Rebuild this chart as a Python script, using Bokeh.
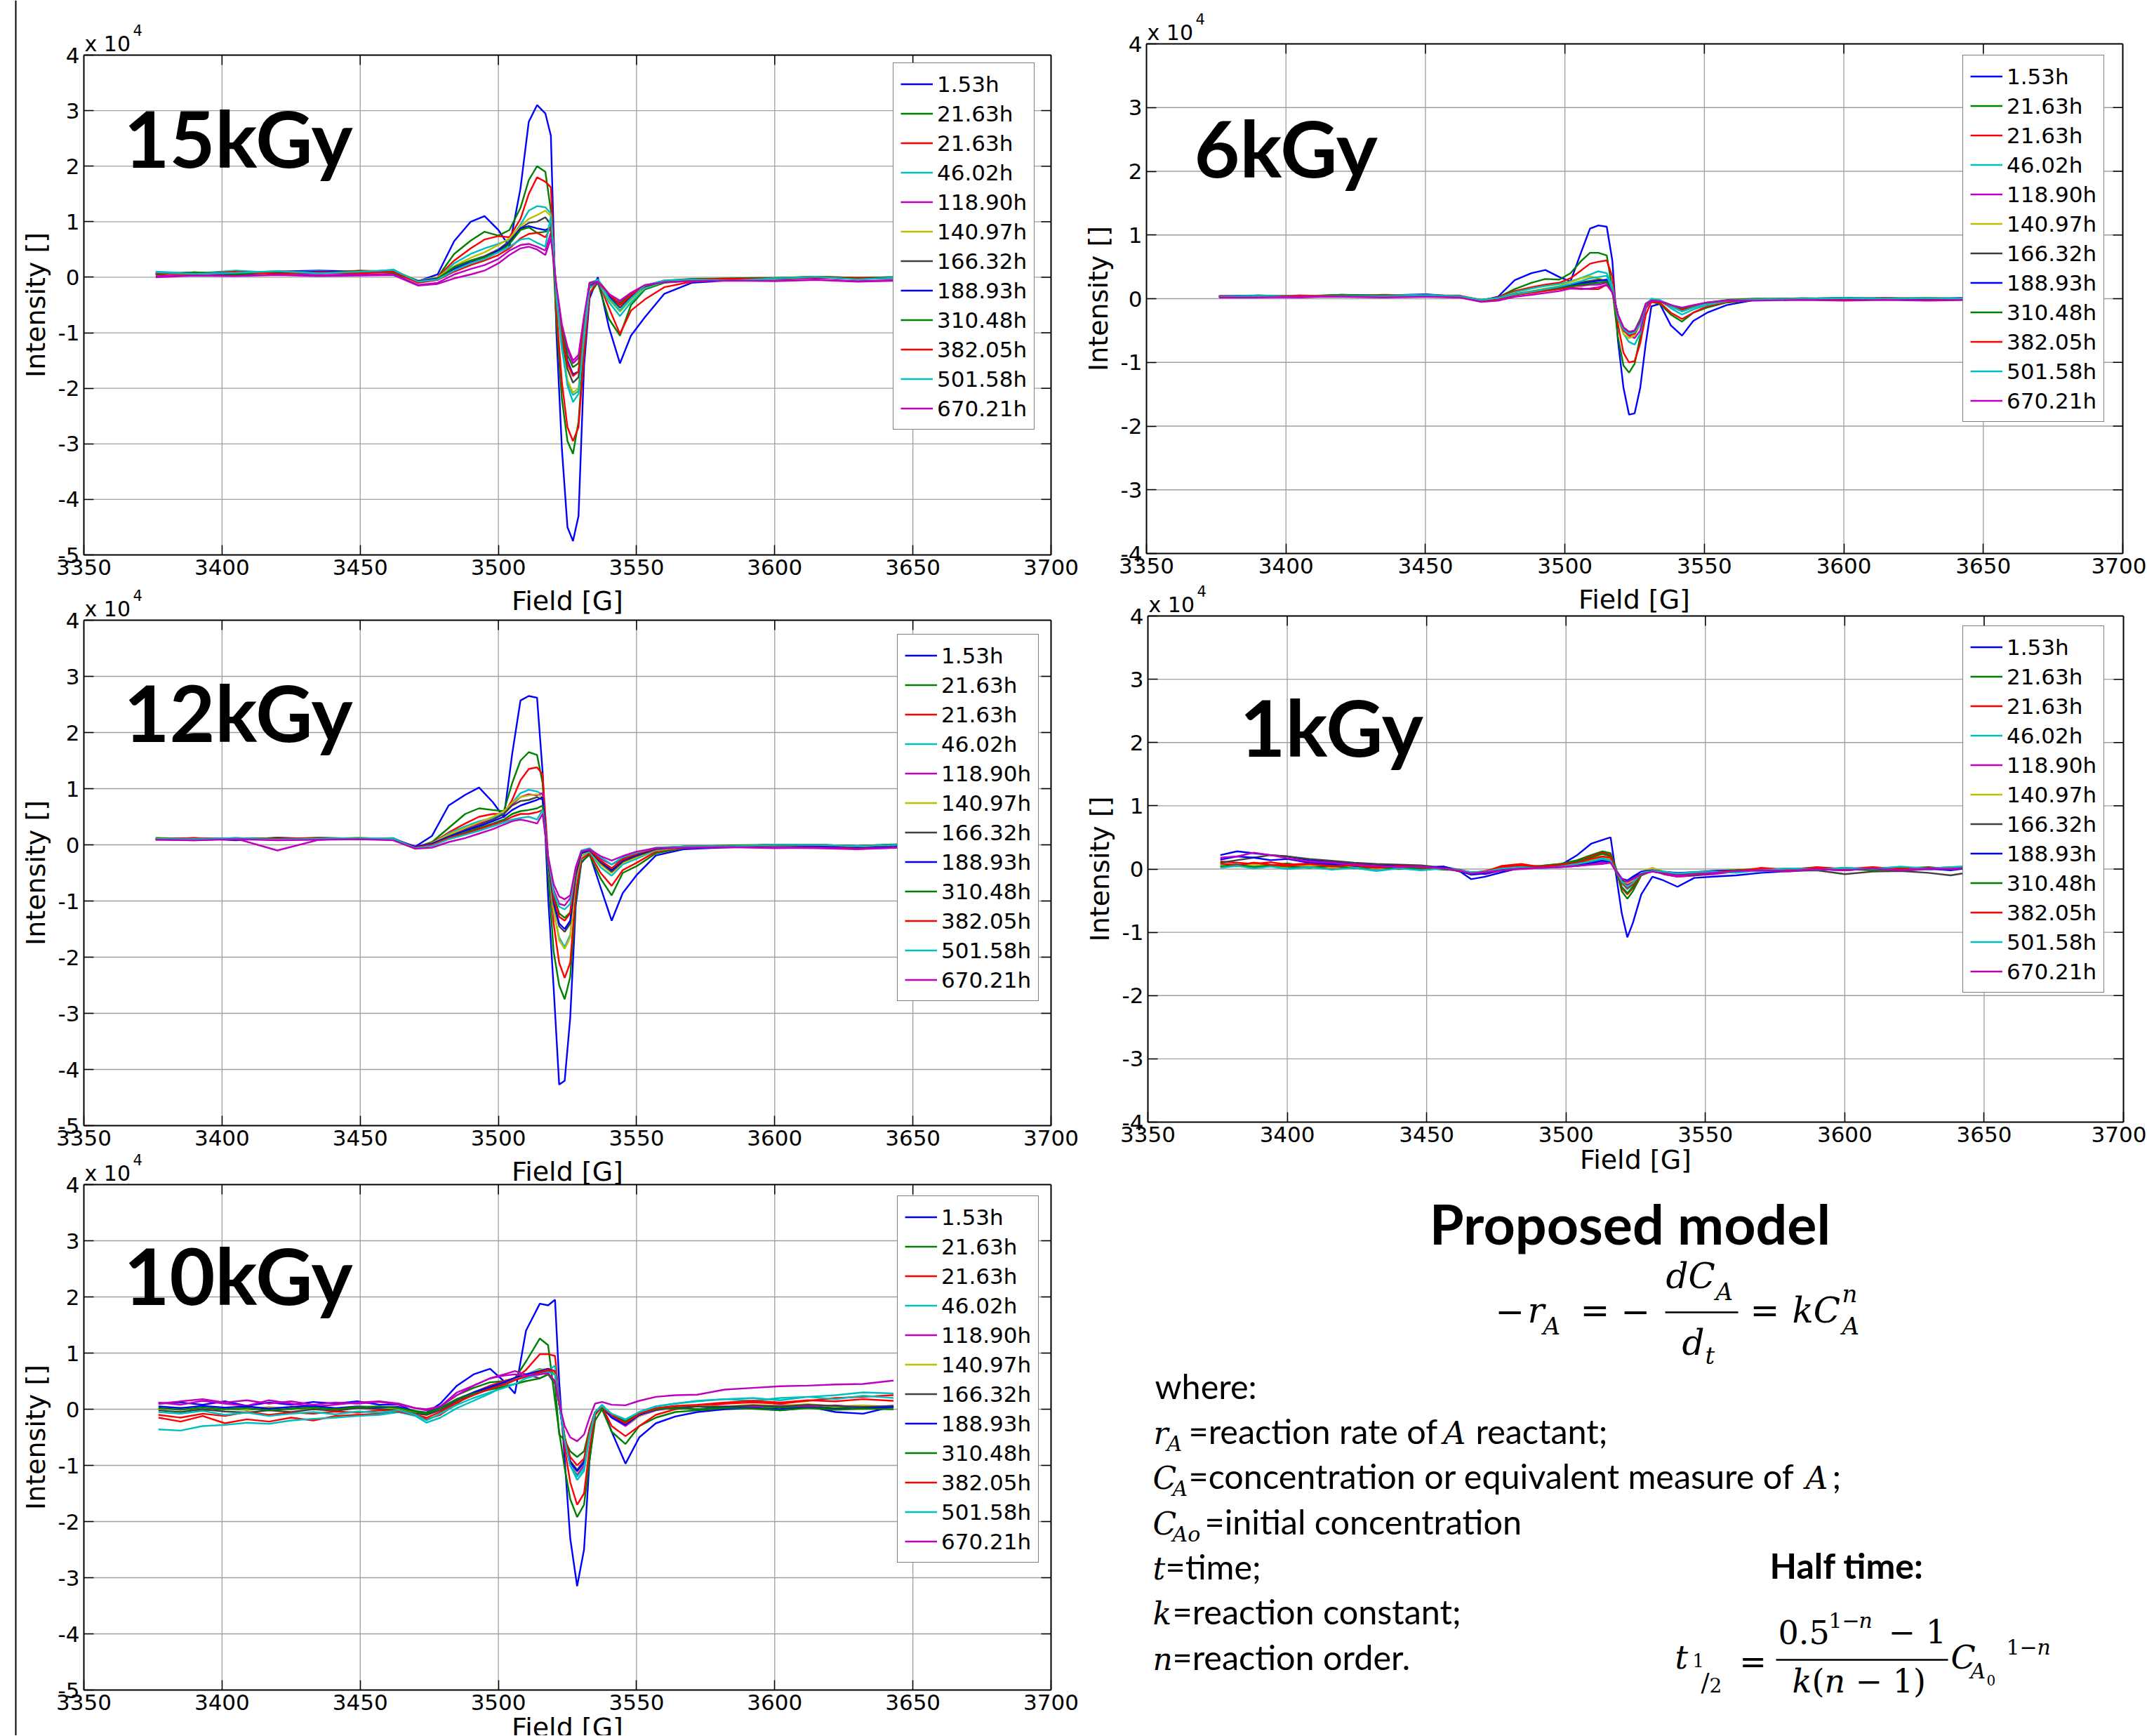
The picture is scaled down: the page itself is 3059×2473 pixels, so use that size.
from bokeh.plotting import figure
from bokeh.models import Range1d, FixedTicker, Legend, LegendItem, Label, Span
from bokeh.layouts import row, column
from bokeh.core.properties import value
from bokeh.embed import file_html
from bokeh.resources import INLINE

# ---------------- data ----------------
HOURS = ["1.53h", "21.63h", "21.63h", "46.02h", "118.90h", "140.97h",
         "166.32h", "188.93h", "310.48h", "382.05h", "501.58h", "670.21h"]
COLORS = ["#0000FF", "#008000", "#FF0000", "#00BFBF", "#BF00BF", "#BFBF00",
          "#404040", "#0000FF", "#008000", "#FF0000", "#00BFBF", "#BF00BF"]
X_TICKS = [3350, 3400, 3450, 3500, 3550, 3600, 3650, 3700]

# 15 kGy (intensity in units of 1e4)
F15 = [3376, 3390, 3405, 3420, 3435, 3450, 3462, 3471, 3478, 3484, 3490, 3495, 3500, 3504, 3508, 3511, 3514, 3517, 3519, 3521,
       3523, 3525, 3527, 3529, 3531, 3533, 3536, 3540, 3544, 3548, 3553, 3560, 3570, 3585, 3600, 3615, 3630, 3645]
D15_01 = [0.06, 0.08, 0.05, 0.10, 0.12, 0.10, 0.12, -0.07, 0.05, 0.65, 1.00, 1.10, 0.85, 0.55, 1.60, 2.80, 3.10, 2.95, 2.55, -1.00,
          -3.10, -4.50, -4.75, -4.30, -1.60, -0.38, 0.00, -0.90, -1.55, -1.05, -0.72, -0.30, -0.10, -0.05, -0.03, 0.00, -0.03, -0.01]
D15_02 = [0.08, 0.06, 0.09, 0.07, 0.10, 0.09, 0.11, -0.08, 0.00, 0.42, 0.66, 0.82, 0.75, 0.85, 1.25, 1.75, 2.00, 1.90, 1.20, -0.80,
          -2.20, -2.95, -3.18, -2.60, -1.20, -0.30, -0.10, -0.75, -1.05, -0.50, -0.22, -0.10, -0.06, -0.03, -0.02, 0.01, -0.02, 0.00]
D15_03 = [0.05, 0.09, 0.06, 0.11, 0.08, 0.12, 0.10, -0.09, 0.00, 0.30, 0.52, 0.68, 0.74, 0.72, 1.05, 1.50, 1.80, 1.72, 1.62, -0.60,
          -1.90, -2.70, -2.95, -2.70, -1.40, -0.30, -0.05, -0.55, -1.02, -0.60, -0.40, -0.18, -0.08, -0.04, -0.02, 0.01, -0.01, 0.00]
D15_04 = [0.10, 0.07, 0.12, 0.08, 0.11, 0.07, 0.14, -0.10, -0.02, 0.25, 0.42, 0.52, 0.60, 0.68, 0.95, 1.20, 1.28, 1.26, 1.15, -0.40,
          -1.30, -1.90, -2.12, -2.05, -1.10, -0.20, -0.08, -0.45, -0.70, -0.45, -0.20, -0.08, -0.05, -0.02, -0.04, 0.00, -0.02, 0.01]
D15_05 = [0.02, 0.05, 0.03, 0.06, 0.04, 0.05, 0.06, -0.14, -0.10, 0.05, 0.15, 0.22, 0.33, 0.48, 0.58, 0.60, 0.55, 0.48, 0.80, -0.20,
          -0.90, -1.30, -1.55, -1.45, -0.75, -0.15, -0.10, -0.35, -0.45, -0.30, -0.15, -0.08, -0.06, -0.05, -0.06, -0.04, -0.07, -0.05]
D15_06 = [0.07, 0.05, 0.08, 0.06, 0.09, 0.08, 0.12, -0.06, 0.00, 0.20, 0.35, 0.45, 0.58, 0.70, 0.92, 1.05, 1.12, 1.20, 1.10, -0.30,
          -1.20, -1.85, -2.08, -2.00, -1.00, -0.15, -0.05, -0.40, -0.62, -0.40, -0.18, -0.07, -0.04, -0.02, -0.03, 0.00, -0.02, 0.00]
D15_07 = [0.06, 0.08, 0.05, 0.09, 0.07, 0.10, 0.09, -0.08, -0.03, 0.18, 0.30, 0.38, 0.50, 0.65, 0.88, 0.98, 1.00, 1.08, 0.95, -0.30,
          -1.10, -1.65, -1.90, -1.80, -0.90, -0.15, -0.06, -0.35, -0.55, -0.35, -0.17, -0.07, -0.04, -0.03, -0.02, 0.00, -0.03, -0.01]
D15_08 = [0.08, 0.06, 0.09, 0.07, 0.10, 0.09, 0.11, -0.07, -0.02, 0.15, 0.28, 0.36, 0.48, 0.62, 0.88, 0.92, 0.88, 0.85, 0.90, -0.25,
          -1.00, -1.50, -1.75, -1.70, -0.85, -0.12, -0.05, -0.32, -0.50, -0.33, -0.16, -0.07, -0.04, -0.03, -0.02, 0.00, -0.02, 0.00]
D15_09 = [0.05, 0.09, 0.06, 0.10, 0.08, 0.11, 0.08, -0.09, -0.03, 0.18, 0.30, 0.36, 0.45, 0.60, 0.85, 0.90, 0.80, 0.82, 0.85, -0.25,
          -0.95, -1.40, -1.62, -1.55, -0.80, -0.10, -0.05, -0.30, -0.48, -0.30, -0.15, -0.06, -0.03, -0.02, -0.01, 0.01, -0.01, 0.00]
D15_10 = [0.07, 0.05, 0.10, 0.06, 0.09, 0.07, 0.10, -0.10, -0.05, 0.10, 0.22, 0.30, 0.40, 0.52, 0.70, 0.78, 0.80, 0.72, 0.90, -0.20,
          -1.05, -1.55, -1.78, -1.70, -0.85, -0.12, -0.06, -0.30, -0.50, -0.32, -0.15, -0.07, -0.04, -0.03, -0.02, 0.00, -0.02, -0.01]
D15_11 = [0.09, 0.06, 0.08, 0.11, 0.07, 0.10, 0.13, -0.08, -0.04, 0.12, 0.25, 0.33, 0.45, 0.55, 0.68, 0.70, 0.62, 0.55, 1.10, -0.30,
          -1.25, -1.95, -2.25, -2.10, -1.00, -0.12, -0.04, -0.38, -0.60, -0.38, -0.15, -0.06, -0.04, -0.06, -0.02, 0.01, -0.04, 0.00]
D15_12 = [0.00, 0.03, 0.02, 0.04, 0.02, 0.03, 0.04, -0.15, -0.12, -0.02, 0.05, 0.12, 0.25, 0.40, 0.52, 0.55, 0.50, 0.40, 0.70, -0.15,
          -0.85, -1.25, -1.50, -1.40, -0.70, -0.10, -0.08, -0.30, -0.42, -0.28, -0.14, -0.09, -0.07, -0.06, -0.07, -0.05, -0.08, -0.06]

# 6 kGy
F6 = [3376, 3390, 3405, 3420, 3435, 3450, 3462, 3470, 3476, 3482, 3488, 3493, 3498, 3502, 3506, 3509, 3512, 3515, 3517, 3519,
      3521, 3523, 3525, 3527, 3529, 3531, 3534, 3538, 3542, 3546, 3551, 3558, 3568, 3585, 3600, 3615, 3630, 3645]
D6_01 = [0.04, 0.05, 0.03, 0.06, 0.05, 0.07, 0.03, -0.03, 0.03, 0.29, 0.40, 0.45, 0.34, 0.27, 0.75, 1.10, 1.15, 1.13, 0.60, -0.65,
         -1.40, -1.82, -1.80, -1.40, -0.70, -0.12, -0.08, -0.42, -0.58, -0.35, -0.22, -0.10, -0.02, 0.00, 0.01, 0.00, 0.01, 0.00]
D6_02 = [0.03, 0.05, 0.04, 0.06, 0.04, 0.06, 0.04, -0.02, 0.02, 0.15, 0.25, 0.31, 0.30, 0.40, 0.60, 0.72, 0.72, 0.68, 0.15, -0.60,
         -1.05, -1.16, -1.02, -0.60, -0.12, -0.05, -0.08, -0.25, -0.36, -0.22, -0.14, -0.06, -0.02, 0.01, 0.00, 0.01, 0.00, 0.01]
D6_03 = [0.04, 0.03, 0.05, 0.04, 0.06, 0.05, 0.05, -0.02, 0.02, 0.12, 0.18, 0.22, 0.25, 0.32, 0.45, 0.55, 0.58, 0.60, 0.35, -0.40,
         -0.85, -1.00, -0.98, -0.70, -0.25, -0.05, -0.06, -0.22, -0.32, -0.22, -0.12, -0.05, -0.02, 0.00, 0.01, 0.00, 0.01, 0.00]
D6_04 = [0.03, 0.05, 0.04, 0.05, 0.05, 0.06, 0.04, -0.02, 0.01, 0.10, 0.16, 0.20, 0.23, 0.27, 0.33, 0.38, 0.43, 0.40, 0.20, -0.30,
         -0.55, -0.68, -0.72, -0.55, -0.15, -0.02, -0.03, -0.15, -0.25, -0.17, -0.10, -0.04, -0.01, 0.00, 0.01, 0.01, 0.00, 0.01]
D6_05 = [0.02, 0.03, 0.02, 0.04, 0.03, 0.04, 0.02, -0.04, -0.01, 0.06, 0.10, 0.14, 0.18, 0.20, 0.20, 0.22, 0.22, 0.25, 0.15, -0.25,
         -0.48, -0.58, -0.62, -0.50, -0.15, -0.03, -0.04, -0.10, -0.16, -0.12, -0.07, -0.03, -0.02, -0.01, -0.02, -0.01, -0.02, -0.01]
D6_06 = [0.03, 0.04, 0.03, 0.05, 0.04, 0.05, 0.03, -0.02, 0.01, 0.08, 0.12, 0.16, 0.20, 0.26, 0.32, 0.35, 0.32, 0.28, 0.10, -0.30,
         -0.55, -0.62, -0.58, -0.40, -0.08, -0.02, -0.03, -0.12, -0.20, -0.14, -0.08, -0.03, -0.01, 0.00, 0.01, 0.00, 0.01, 0.00]
D6_07 = [0.04, 0.03, 0.04, 0.04, 0.05, 0.04, 0.04, -0.03, 0.00, 0.07, 0.11, 0.15, 0.18, 0.22, 0.26, 0.28, 0.30, 0.28, 0.12, -0.28,
         -0.50, -0.55, -0.52, -0.38, -0.10, -0.02, -0.03, -0.12, -0.18, -0.13, -0.07, -0.03, -0.01, 0.00, 0.00, 0.01, 0.00, 0.00]
D6_08 = [0.04, 0.04, 0.03, 0.05, 0.04, 0.05, 0.03, -0.03, 0.01, 0.07, 0.10, 0.14, 0.17, 0.21, 0.24, 0.26, 0.28, 0.30, 0.12, -0.25,
         -0.48, -0.55, -0.52, -0.35, -0.08, -0.02, -0.03, -0.10, -0.17, -0.12, -0.07, -0.03, -0.01, 0.00, 0.01, 0.00, 0.00, 0.01]
D6_09 = [0.03, 0.04, 0.04, 0.05, 0.05, 0.04, 0.04, -0.02, 0.00, 0.06, 0.10, 0.13, 0.16, 0.19, 0.22, 0.24, 0.25, 0.27, 0.10, -0.25,
         -0.45, -0.52, -0.50, -0.32, -0.08, -0.02, -0.03, -0.10, -0.16, -0.11, -0.06, -0.02, 0.00, 0.00, 0.01, 0.00, 0.01, 0.00]
D6_10 = [0.04, 0.03, 0.05, 0.04, 0.04, 0.05, 0.03, -0.03, 0.00, 0.06, 0.09, 0.12, 0.15, 0.17, 0.16, 0.15, 0.15, 0.22, 0.10, -0.28,
         -0.50, -0.58, -0.55, -0.38, -0.10, -0.02, -0.04, -0.12, -0.18, -0.13, -0.07, -0.03, -0.01, 0.00, 0.00, 0.01, 0.00, 0.00]
D6_11 = [0.03, 0.04, 0.03, 0.04, 0.04, 0.05, 0.04, -0.02, 0.01, 0.07, 0.11, 0.15, 0.19, 0.23, 0.28, 0.32, 0.34, 0.36, 0.15, -0.30,
         -0.48, -0.55, -0.53, -0.40, -0.10, 0.00, -0.02, -0.12, -0.20, -0.14, -0.08, -0.03, -0.01, 0.00, 0.01, 0.00, 0.01, 0.00]
D6_12 = [0.02, 0.02, 0.03, 0.03, 0.02, 0.03, 0.02, -0.05, -0.03, 0.03, 0.06, 0.09, 0.12, 0.16, 0.15, 0.16, 0.18, 0.22, 0.10, -0.25,
         -0.45, -0.52, -0.50, -0.35, -0.08, -0.03, -0.04, -0.10, -0.14, -0.10, -0.06, -0.03, -0.03, -0.02, -0.03, -0.02, -0.03, -0.02]

# 12 kGy
F12 = [3376, 3390, 3405, 3420, 3435, 3450, 3462, 3470, 3476, 3482, 3488, 3493, 3498, 3502, 3505, 3508, 3511, 3514, 3516, 3518,
       3520, 3522, 3524, 3526, 3528, 3530, 3533, 3537, 3541, 3545, 3550, 3557, 3567, 3585, 3600, 3615, 3630, 3645]
D12_01 = [0.10, 0.12, 0.08, 0.13, 0.10, 0.12, 0.10, -0.03, 0.16, 0.70, 0.89, 1.02, 0.76, 0.49, 1.62, 2.57, 2.65, 2.62, 1.30, -0.92,
          -2.54, -4.27, -4.20, -3.08, -1.08, -0.32, -0.16, -0.76, -1.35, -0.86, -0.54, -0.19, -0.08, -0.04, -0.02, -0.03, -0.05, -0.02]
D12_02 = [0.11, 0.09, 0.12, 0.10, 0.13, 0.11, 0.09, -0.05, 0.05, 0.30, 0.55, 0.65, 0.62, 0.60, 1.10, 1.50, 1.65, 1.60, 1.10, -0.50,
          -1.90, -2.50, -2.75, -2.35, -1.00, -0.30, -0.18, -0.60, -0.90, -0.50, -0.38, -0.15, -0.06, -0.02, -0.01, 0.00, -0.03, 0.00]
D12_03 = [0.09, 0.11, 0.10, 0.12, 0.09, 0.12, 0.11, -0.04, 0.03, 0.22, 0.38, 0.50, 0.55, 0.55, 0.80, 1.15, 1.35, 1.38, 1.25, -0.20,
          -1.40, -2.10, -2.37, -2.10, -0.85, -0.25, -0.15, -0.50, -0.73, -0.45, -0.32, -0.12, -0.05, -0.02, 0.00, -0.01, -0.03, 0.00]
D12_04 = [0.12, 0.09, 0.11, 0.10, 0.12, 0.10, 0.12, -0.05, 0.02, 0.20, 0.33, 0.42, 0.48, 0.56, 0.75, 0.92, 0.98, 0.95, 0.90, -0.35,
          -1.20, -1.65, -1.82, -1.60, -0.65, -0.20, -0.12, -0.40, -0.55, -0.35, -0.25, -0.10, -0.04, -0.03, -0.01, 0.00, -0.02, 0.01]
D12_05 = [0.10, 0.08, 0.11, -0.10, 0.09, 0.11, 0.10, -0.04, 0.00, 0.15, 0.28, 0.38, 0.45, 0.55, 0.72, 0.85, 0.90, 0.88, 0.92, -0.25,
          -0.80, -1.05, -1.08, -0.95, -0.45, -0.12, -0.10, -0.25, -0.35, -0.25, -0.15, -0.07, -0.05, -0.04, -0.05, -0.06, -0.08, -0.05]
D12_06 = [0.13, 0.10, 0.12, 0.11, 0.10, 0.13, 0.09, -0.07, 0.03, 0.18, 0.30, 0.40, 0.50, 0.60, 0.75, 0.85, 0.88, 0.90, 0.85, -0.30,
          -1.15, -1.70, -1.85, -1.65, -0.60, -0.18, -0.10, -0.35, -0.50, -0.32, -0.22, -0.09, -0.04, -0.02, -0.01, 0.00, -0.03, 0.00]
D12_07 = [0.11, 0.12, 0.09, 0.12, 0.11, 0.10, 0.11, -0.05, 0.02, 0.15, 0.26, 0.35, 0.45, 0.55, 0.70, 0.78, 0.80, 0.85, 0.80, -0.30,
          -1.05, -1.45, -1.55, -1.40, -0.55, -0.15, -0.10, -0.32, -0.48, -0.30, -0.20, -0.08, -0.04, -0.02, -0.01, -0.01, -0.02, 0.00]
D12_08 = [0.10, 0.11, 0.12, 0.10, 0.12, 0.11, 0.10, -0.04, 0.02, 0.14, 0.25, 0.33, 0.42, 0.50, 0.62, 0.70, 0.75, 0.80, 0.85, -0.30,
          -1.00, -1.40, -1.50, -1.35, -0.50, -0.15, -0.09, -0.30, -0.45, -0.28, -0.18, -0.07, -0.03, -0.02, 0.00, -0.01, -0.02, 0.00]
D12_09 = [0.12, 0.10, 0.11, 0.12, 0.10, 0.12, 0.09, -0.06, 0.00, 0.12, 0.22, 0.30, 0.38, 0.45, 0.55, 0.60, 0.62, 0.65, 0.70, -0.25,
          -0.90, -1.22, -1.30, -1.20, -0.45, -0.12, -0.08, -0.28, -0.42, -0.25, -0.16, -0.06, -0.03, -0.01, 0.00, 0.00, -0.02, 0.01]
D12_10 = [0.10, 0.12, 0.10, 0.11, 0.12, 0.10, 0.10, -0.05, 0.00, 0.12, 0.20, 0.28, 0.36, 0.42, 0.50, 0.55, 0.55, 0.58, 0.62, -0.25,
          -0.95, -1.28, -1.35, -1.22, -0.45, -0.12, -0.08, -0.28, -0.42, -0.26, -0.16, -0.06, -0.03, -0.02, 0.00, 0.00, -0.02, 0.00]
D12_11 = [0.11, 0.10, 0.12, 0.09, 0.11, 0.12, 0.11, -0.06, -0.02, 0.10, 0.18, 0.25, 0.33, 0.40, 0.45, 0.48, 0.50, 0.45, 0.62, -0.20,
          -0.85, -1.10, -1.15, -1.05, -0.40, -0.10, -0.06, -0.22, -0.35, -0.22, -0.14, -0.05, -0.03, -0.02, 0.00, 0.00, -0.02, 0.00]
D12_12 = [0.09, 0.08, 0.10, 0.08, 0.09, 0.10, 0.08, -0.07, -0.05, 0.05, 0.12, 0.20, 0.28, 0.36, 0.42, 0.45, 0.42, 0.38, 0.55, -0.20,
          -0.70, -0.92, -0.97, -0.90, -0.40, -0.12, -0.08, -0.20, -0.28, -0.20, -0.12, -0.06, -0.05, -0.04, -0.06, -0.05, -0.07, -0.05]

# 1 kGy
F1 = [3376, 3382, 3388, 3394, 3400, 3408, 3416, 3424, 3432, 3440, 3448, 3456, 3462, 3466, 3471, 3477, 3484, 3491, 3498, 3504,
      3509, 3513, 3516, 3518, 3520, 3522, 3524, 3527, 3531, 3535, 3540, 3546, 3553, 3561, 3570, 3580, 3590, 3600, 3610, 3620,
      3630, 3638, 3645]
D1_01 = [0.22, 0.28, 0.25, 0.22, 0.20, 0.14, 0.12, 0.08, 0.06, 0.05, 0.04, 0.02, -0.04, -0.16, -0.12, -0.05, 0.02, 0.03, 0.06, 0.22,
         0.40, 0.46, 0.50, -0.10, -0.70, -1.08, -0.85, -0.40, -0.12, -0.18, -0.28, -0.14, -0.12, -0.10, -0.06, -0.03, 0.00, -0.02, 0.01, -0.01,
         0.02, 0.00, 0.01]
D1_02 = [0.08, 0.05, 0.10, 0.06, 0.09, 0.04, 0.07, 0.03, 0.05, 0.02, 0.04, 0.01, -0.03, -0.08, -0.06, -0.02, 0.03, 0.05, 0.08, 0.14,
         0.22, 0.28, 0.25, 0.00, -0.35, -0.47, -0.35, -0.10, -0.03, -0.06, -0.10, -0.08, -0.06, -0.03, -0.02, 0.01, -0.01, 0.02, -0.01, 0.01,
         0.00, 0.02, -0.01]
D1_03 = [0.12, 0.10, 0.08, 0.11, 0.07, 0.09, 0.05, 0.08, 0.03, 0.06, 0.02, 0.04, -0.02, -0.07, -0.04, 0.05, 0.08, 0.03, 0.06, 0.12,
         0.20, 0.26, 0.22, -0.05, -0.30, -0.40, -0.30, -0.08, -0.02, -0.08, -0.12, -0.10, -0.06, -0.04, 0.02, -0.01, 0.03, 0.00, 0.02, -0.01,
         0.01, 0.03, 0.00]
D1_04 = [0.05, 0.08, 0.04, 0.06, 0.02, 0.05, 0.01, 0.03, -0.02, 0.02, 0.00, 0.03, -0.01, -0.06, -0.05, 0.00, 0.04, 0.02, 0.05, 0.10,
         0.15, 0.18, 0.15, -0.05, -0.22, -0.32, -0.25, -0.08, -0.03, -0.05, -0.08, -0.06, -0.05, -0.02, -0.04, 0.00, 0.02, -0.02, 0.01, 0.03,
         -0.01, 0.02, 0.04]
D1_05 = [0.03, 0.06, 0.02, 0.05, 0.03, 0.04, 0.00, 0.03, 0.01, 0.04, 0.00, 0.02, -0.02, -0.05, -0.08, -0.02, 0.00, 0.02, 0.03, 0.05,
         0.08, 0.10, 0.12, -0.05, -0.18, -0.25, -0.20, -0.06, -0.02, -0.08, -0.12, -0.10, -0.08, -0.04, -0.02, -0.04, 0.00, -0.02, 0.01, -0.03,
         0.00, -0.01, 0.02]
D1_06 = [0.06, 0.04, 0.07, 0.05, 0.03, 0.06, 0.02, 0.04, 0.01, 0.03, 0.02, 0.00, -0.02, -0.06, -0.05, 0.00, 0.02, 0.04, 0.06, 0.10,
         0.15, 0.20, 0.16, -0.05, -0.18, -0.22, -0.18, -0.04, 0.02, -0.04, -0.07, -0.05, -0.03, -0.01, 0.01, -0.02, 0.00, 0.01, -0.02, 0.00,
         0.02, -0.01, 0.01]
D1_07 = [0.10, 0.14, 0.18, 0.22, 0.20, 0.16, 0.13, 0.10, 0.08, 0.07, 0.06, 0.02, -0.04, -0.08, -0.06, -0.02, 0.02, 0.04, 0.05, 0.08,
         0.12, 0.15, 0.13, -0.05, -0.18, -0.20, -0.15, -0.05, -0.03, -0.05, -0.08, -0.10, -0.06, -0.03, -0.01, -0.03, -0.02, -0.08, -0.04, -0.03,
         -0.06, -0.10, -0.05]
D1_08 = [0.15, 0.20, 0.18, 0.14, 0.16, 0.10, 0.08, 0.05, 0.03, 0.06, 0.02, 0.04, -0.03, -0.09, -0.07, -0.01, 0.03, 0.02, 0.04, 0.07,
         0.10, 0.13, 0.12, -0.02, -0.15, -0.18, -0.12, -0.04, -0.02, -0.04, -0.06, -0.05, -0.03, -0.02, 0.00, -0.02, 0.01, -0.01, 0.02, 0.00,
         0.01, -0.02, 0.02]
D1_09 = [0.04, 0.07, 0.03, 0.06, 0.04, 0.02, 0.05, 0.01, 0.03, 0.00, 0.02, -0.01, -0.02, -0.07, -0.05, 0.01, 0.03, 0.05, 0.08, 0.12,
         0.18, 0.24, 0.20, -0.05, -0.28, -0.38, -0.28, -0.06, -0.03, -0.05, -0.09, -0.07, -0.05, -0.02, 0.00, -0.01, 0.02, 0.00, -0.02, 0.01,
         0.03, 0.00, 0.02]
D1_10 = [0.09, 0.06, 0.10, 0.07, 0.05, 0.08, 0.04, 0.06, 0.02, 0.05, 0.03, 0.01, -0.01, -0.06, -0.03, 0.03, 0.06, 0.04, 0.07, 0.10,
         0.16, 0.20, 0.18, -0.03, -0.22, -0.30, -0.24, -0.07, -0.04, -0.07, -0.10, -0.08, -0.05, -0.03, 0.01, -0.01, 0.02, 0.00, 0.03, 0.00,
         0.02, 0.01, 0.02]
D1_11 = [0.02, 0.05, 0.01, 0.04, 0.00, 0.03, -0.01, 0.02, -0.03, 0.01, -0.02, 0.01, -0.02, -0.05, -0.04, 0.01, 0.03, 0.01, 0.04, 0.08,
         0.12, 0.16, 0.13, -0.03, -0.20, -0.28, -0.22, -0.06, -0.03, -0.04, -0.07, -0.05, -0.04, -0.06, -0.02, 0.01, -0.01, 0.02, 0.00, 0.04,
         0.01, 0.03, 0.05]
D1_12 = [0.18, 0.20, 0.26, 0.22, 0.17, 0.12, 0.10, 0.07, 0.05, 0.03, 0.04, 0.01, -0.03, -0.07, -0.05, -0.02, 0.01, 0.02, 0.03, 0.05,
         0.07, 0.08, 0.10, -0.04, -0.15, -0.20, -0.16, -0.08, -0.04, -0.07, -0.10, -0.08, -0.06, -0.03, -0.02, -0.03, 0.00, -0.02, 0.01, -0.02,
         0.01, 0.00, 0.02]

# 10 kGy
F10 = [3377, 3385, 3393, 3401, 3409, 3417, 3425, 3433, 3441, 3449, 3457, 3464, 3470, 3474, 3479, 3485, 3491, 3497, 3502, 3506,
       3510, 3515, 3518, 3520.5, 3522, 3524, 3526, 3528.5, 3531, 3533, 3535, 3537.5, 3541, 3546, 3551, 3557, 3564, 3572, 3582, 3592,
       3602, 3612, 3622, 3632, 3643]
D10_01 = [0.10, 0.12, 0.08, 0.14, 0.06, 0.12, 0.08, 0.13, 0.10, 0.14, 0.08, 0.08, -0.05, -0.06, 0.10, 0.42, 0.62, 0.72, 0.50, 0.28,
          1.40, 1.88, 1.85, 1.95, 0.50, -0.90, -2.30, -3.15, -2.50, -0.90, -0.10, 0.05, -0.40, -0.97, -0.50, -0.25, -0.13, -0.05, 0.00, 0.02,
          0.00, 0.05, -0.05, -0.08, 0.05]
D10_02 = [0.00, 0.02, -0.02, 0.01, -0.01, 0.02, 0.00, 0.03, -0.01, 0.02, 0.04, 0.03, -0.03, -0.06, 0.05, 0.25, 0.38, 0.48, 0.50, 0.55,
          0.85, 1.26, 1.14, 0.15, -0.40, -1.05, -1.60, -1.92, -1.70, -0.90, -0.20, 0.00, -0.40, -0.62, -0.30, -0.15, -0.05, -0.02, 0.02, 0.05,
          0.03, 0.06, 0.02, 0.05, 0.03]
D10_03 = [-0.15, -0.22, -0.12, -0.25, -0.18, -0.22, -0.15, -0.20, -0.12, -0.10, -0.08, -0.05, -0.10, -0.18, -0.10, 0.10, 0.30, 0.42, 0.50, 0.55,
          0.70, 0.98, 0.98, 0.95, 0.20, -0.70, -1.30, -1.70, -1.50, -0.70, -0.10, 0.05, -0.30, -0.48, -0.30, -0.10, 0.00, 0.05, 0.10, 0.12,
          0.10, 0.15, 0.20, 0.22, 0.25]
D10_04 = [-0.36, -0.38, -0.30, -0.28, -0.24, -0.26, -0.20, -0.17, -0.15, -0.12, -0.10, -0.05, -0.12, -0.24, -0.15, 0.02, 0.15, 0.28, 0.42, 0.52,
          0.62, 0.72, 0.68, 0.78, 0.20, -0.50, -1.00, -1.26, -1.10, -0.50, -0.05, 0.08, -0.10, -0.20, -0.05, 0.05, 0.10, 0.15, 0.18, 0.15,
          0.20, 0.22, 0.25, 0.30, 0.28]
D10_05 = [0.12, 0.08, 0.15, 0.10, 0.06, 0.16, 0.10, 0.05, 0.08, 0.12, 0.14, 0.10, 0.02, -0.02, 0.05, 0.25, 0.42, 0.55, 0.62, 0.68,
          0.62, 0.55, 0.62, 0.50, 0.10, -0.60, -1.00, -1.17, -1.00, -0.40, -0.05, 0.03, -0.15, -0.30, -0.12, -0.02, 0.03, 0.05, 0.06, 0.04,
          0.08, 0.05, 0.07, 0.03, 0.06]
D10_06 = [0.00, 0.03, -0.01, 0.02, 0.00, 0.04, 0.01, 0.02, 0.00, 0.03, 0.02, 0.00, -0.05, -0.10, 0.00, 0.18, 0.30, 0.40, 0.48, 0.55,
          0.62, 0.70, 0.72, 0.65, 0.10, -0.50, -0.95, -1.12, -0.95, -0.40, -0.05, 0.05, -0.12, -0.28, -0.12, 0.00, 0.04, 0.06, 0.05, 0.08,
          0.06, 0.09, 0.05, 0.07, 0.04]
D10_07 = [-0.02, -0.05, 0.00, -0.04, -0.06, -0.02, -0.05, 0.00, -0.03, 0.02, 0.00, -0.02, -0.08, -0.10, -0.02, 0.15, 0.28, 0.38, 0.45, 0.52,
          0.58, 0.65, 0.68, 0.62, 0.10, -0.50, -0.92, -1.08, -0.92, -0.38, -0.05, 0.04, -0.12, -0.26, -0.10, 0.00, 0.03, 0.05, 0.04, 0.07,
          0.05, 0.08, 0.06, 0.04, 0.06]
D10_08 = [0.05, 0.02, 0.06, 0.03, 0.05, 0.01, 0.04, 0.06, 0.02, 0.05, 0.03, 0.04, -0.04, -0.08, 0.02, 0.18, 0.30, 0.40, 0.48, 0.56,
          0.62, 0.68, 0.72, 0.68, 0.10, -0.55, -0.95, -1.10, -0.95, -0.40, -0.05, 0.04, -0.15, -0.28, -0.10, 0.00, 0.02, 0.00, 0.04, 0.02,
          -0.02, 0.03, 0.00, 0.02, 0.04]
D10_09 = [0.02, -0.01, 0.03, 0.00, 0.02, -0.02, 0.01, 0.03, 0.00, 0.04, 0.05, 0.02, -0.04, -0.08, 0.02, 0.18, 0.28, 0.35, 0.40, 0.45,
          0.50, 0.55, 0.62, 0.45, -0.45, -0.55, -0.75, -0.85, -0.75, -0.35, -0.05, 0.02, -0.10, -0.22, -0.08, 0.00, 0.02, 0.00, 0.03, 0.01,
          -0.02, 0.02, -0.01, 0.01, 0.00]
D10_10 = [-0.10, -0.15, -0.08, -0.12, -0.05, -0.10, -0.06, -0.08, -0.04, -0.06, -0.02, -0.04, -0.10, -0.15, -0.05, 0.12, 0.25, 0.36, 0.44, 0.52,
          0.58, 0.66, 0.70, 0.68, 0.15, -0.50, -0.85, -1.00, -0.88, -0.35, -0.05, 0.04, -0.10, -0.25, -0.08, 0.02, 0.06, 0.08, 0.12, 0.15,
          0.12, 0.16, 0.14, 0.18, 0.15]
D10_11 = [-0.05, -0.08, -0.03, -0.10, -0.06, -0.12, -0.08, -0.05, -0.09, -0.04, -0.06, -0.02, -0.10, -0.20, -0.08, 0.08, 0.20, 0.30, 0.38, 0.45,
          0.55, 0.62, 0.66, 0.62, 0.10, -0.55, -1.00, -1.20, -1.05, -0.45, -0.05, 0.06, -0.08, -0.18, -0.05, 0.05, 0.10, 0.14, 0.18, 0.20,
          0.16, 0.22, 0.18, 0.24, 0.20]
D10_12 = [0.10, 0.14, 0.18, 0.12, 0.16, 0.10, 0.14, 0.08, 0.12, 0.10, 0.13, 0.08, 0.02, 0.00, 0.05, 0.30, 0.42, 0.55, 0.60, 0.62,
          0.60, 0.62, 0.64, 0.50, 0.10, -0.30, -0.50, -0.57, -0.45, -0.15, 0.10, 0.13, 0.08, 0.07, 0.15, 0.22, 0.25, 0.26, 0.35, 0.38,
          0.41, 0.42, 0.44, 0.45, 0.51]

SERIES_15 = [D15_01, D15_02, D15_03, D15_04, D15_05, D15_06, D15_07, D15_08, D15_09, D15_10, D15_11, D15_12]
SERIES_6 = [D6_01, D6_02, D6_03, D6_04, D6_05, D6_06, D6_07, D6_08, D6_09, D6_10, D6_11, D6_12]
SERIES_12 = [D12_01, D12_02, D12_03, D12_04, D12_05, D12_06, D12_07, D12_08, D12_09, D12_10, D12_11, D12_12]
SERIES_1 = [D1_01, D1_02, D1_03, D1_04, D1_05, D1_06, D1_07, D1_08, D1_09, D1_10, D1_11, D1_12]
SERIES_10 = [D10_01, D10_02, D10_03, D10_04, D10_05, D10_06, D10_07, D10_08, D10_09, D10_10, D10_11, D10_12]

# ---------------- styling / layout ----------------
SANS = "DejaVu Sans"
SERIF = "DejaVu Serif"
LATO = "Lato"
TICK_PX = "31px"
GRID_COLOR = "#a0a0a0"
TICK_LEN = 14
# half (ascent - descent) of each font, used to turn a baseline into a text middle
MID_SHIFT = {LATO: 0.387, SANS: 0.346, SERIF: 0.346}


def style_axis(ax):
    ax.axis_line_color = "black"
    ax.axis_line_width = 2
    ax.major_tick_line_color = "black"
    ax.major_tick_line_width = 1.5
    ax.major_tick_in = TICK_LEN
    ax.major_tick_out = 0
    ax.minor_tick_line_color = None
    ax.major_label_text_color = "black"
    ax.major_label_text_font = SANS
    ax.major_label_text_font_size = TICK_PX
    ax.major_label_standoff = 6
    ax.axis_label_text_font = SANS
    ax.axis_label_text_font_size = "38px"
    ax.axis_label_text_font_style = "normal"
    ax.axis_label_text_color = "black"


class Panel:
    def __init__(self, field, curves, ymin, box, frame, legend_page, xlabel=False):
        x0, y0, w, h = box
        fl, ft, fr, fb = frame
        self.box, self.frame, self.ymin = box, frame, ymin
        self.sx = 350.0 / (fr - fl)
        self.sy = (4.0 - ymin) / (fb - ft)
        xr = Range1d(3350 - (fl - x0) * self.sx, 3700 + (x0 + w - fr) * self.sx)
        yr = Range1d(ymin - (y0 + h - fb) * self.sy, 4 + (ft - y0) * self.sy)
        p = figure(width=w, height=h, x_range=xr, y_range=yr, output_backend="svg",
                   toolbar_location=None, min_border=0,
                   background_fill_color="white", border_fill_color="white",
                   outline_line_color=None)
        self.p = p
        yt = list(range(ymin, 5))
        xa, ya = p.xaxis[0], p.yaxis[0]
        xa.ticker = FixedTicker(ticks=X_TICKS)
        ya.ticker = FixedTicker(ticks=yt)
        ya.major_label_overrides = {t: str(t) for t in yt}
        xa.fixed_location = ymin
        ya.fixed_location = 3350
        xa.bounds = (3350, 3700)
        ya.bounds = (ymin, 4)
        style_axis(xa)
        style_axis(ya)
        ya.axis_label = "Intensity []"
        ya.axis_label_standoff = 7
        if xlabel:
            xa.axis_label = "Field [G]"
            xa.axis_label_standoff = 0
        p.grid.visible = False

        # grid lines inside the axes box
        gx = X_TICKS[1:-1]
        gy = yt[1:-1]
        p.segment(x0=gx, y0=[ymin] * len(gx), x1=gx, y1=[4] * len(gx),
                  line_color=GRID_COLOR, line_width=1.3)
        p.segment(x0=[3350] * len(gy), y0=gy, x1=[3700] * len(gy), y1=gy,
                  line_color=GRID_COLOR, line_width=1.3)

        rends = []
        for i, c in enumerate(curves):
            rends.append(p.line(x=field, y=c, line_color=COLORS[i], line_width=2.4))

        # top / right box edges with inward ticks
        p.segment(x0=[3350, 3700], y0=[4, ymin], x1=[3700, 3700], y1=[4, 4],
                  line_color="black", line_width=2)
        p.segment(x0=gx, y0=[4] * len(gx), x1=gx, y1=[4 - TICK_LEN * self.sy] * len(gx),
                  line_color="black", line_width=1.5)
        p.segment(x0=[3700 - TICK_LEN * self.sx] * len(gy), y0=gy, x1=[3700] * len(gy), y1=gy,
                  line_color="black", line_width=1.5)

        lx, lb = legend_page
        legend = Legend(items=[LegendItem(label=value(HOURS[i]), renderers=[r]) for i, r in enumerate(rends)],
                        location=(lx - x0, (y0 + h) - lb), margin=0, padding=10, spacing=3,
                        glyph_width=46, glyph_height=39, label_height=39, label_standoff=6,
                        label_text_font=SANS, label_text_font_size=TICK_PX, label_text_color="black",
                        border_line_color="black", border_line_width=1.5,
                        background_fill_color="white", background_fill_alpha=1.0)
        p.add_layout(legend)

    def to_data(self, px, py):
        fl, ft, fr, fb = self.frame
        return 3350 + (px - fl) * self.sx, 4 - (py - ft) * self.sy

    def label(self, px, py, text, size, font=SANS, style="normal", align="left", middle=False):
        # py is the text baseline unless middle=True
        if not middle:
            py = py - MID_SHIFT[font] * size
        x, y = self.to_data(px, py)
        self.p.add_layout(Label(x=x, y=y, text=text, text_font=font, text_font_size=f"{size}px",
                                text_font_style=style, text_align=align, text_baseline="middle",
                                text_color="black"))

    def exponent(self):
        fl, ft, fr, fb = self.frame
        self.label(fl + 1, ft - 6, "x 10", 30)
        self.label(fl + 70, ft - 28, "4", 21)


# page-coordinate geometry (page origin = layout origin):
# figure (x0, y0, w, h) and axes box (left, top, right, bottom)
A = Panel(F15, SERIES_15, -5, (30, 0, 1510, 835), (119, 78, 1497, 790), (1272, 612))
C = Panel(F12, SERIES_12, -5, (30, 835, 1510, 807), (119, 883, 1497, 1603), (1278, 1426))
E = Panel(F10, SERIES_10, -5, (30, 1642, 1510, 830), (119, 1687, 1497, 2407), (1278, 2226), xlabel=True)
B = Panel(F6, SERIES_6, -4, (1540, 0, 1518, 832), (1633, 62, 3024, 788), (2796, 601))
D = Panel(F1, SERIES_1, -4, (1540, 832, 1518, 858), (1635, 877, 3025, 1598), (2796, 1414), xlabel=True)

for pn in (A, B, C, D, E):
    pn.exponent()

# x-axis titles of the upper panels, drawn in the strip owned by the panel below
C.label(808, 855, "Field [G]", 38, align="center", middle=True)
E.label(808, 1668, "Field [G]", 38, align="center", middle=True)
D.label(2328, 853, "Field [G]", 38, align="center", middle=True)

# dose labels
A.label(176, 238, "15kGy", 112, font=LATO, style="bold")
B.label(1701, 252, "6kGy", 112, font=LATO, style="bold")
C.label(176, 1056, "12kGy", 112, font=LATO, style="bold")
D.label(1766, 1077, "1kGy", 112, font=LATO, style="bold")
E.label(176, 1858, "10kGy", 112, font=LATO, style="bold")

# left page edge line
edge = figure(width=30, height=2472, x_range=Range1d(0, 30), y_range=Range1d(0, 1),
              x_axis_location=None, y_axis_location=None, min_border=0,
              toolbar_location=None, output_backend="svg", outline_line_color=None)
edge.grid.visible = False
edge.add_layout(Span(location=22, dimension="height", line_color="black", line_width=2))

# text block (page coordinates)
T = figure(width=1518, height=782, x_range=Range1d(1540, 3058), y_range=Range1d(2472, 1690),
           x_axis_location=None, y_axis_location=None, min_border=0,
           toolbar_location=None, output_backend="svg", outline_line_color=None)
T.grid.visible = False

TEXTS = [
    (2322, 1773, "Proposed model", LATO, 79, "bold", "center"),
    # -r_A = - dC_A/d_t = k C_A^n
    (2130, 1884, "\u2212", SERIF, 50, "normal", "left"),
    (2176, 1884, "r", SERIF, 50, "italic", "left"),
    (2198, 1900, "A", SERIF, 34, "italic", "left"),
    (2272, 1884, "=", SERIF, 50, "normal", "center"),
    (2330, 1884, "\u2212", SERIF, 50, "normal", "center"),
    (2373, 1835, "dC", SERIF, 50, "italic", "left"),
    (2444, 1851, "A", SERIF, 34, "italic", "left"),
    (2396, 1930, "d", SERIF, 50, "italic", "left"),
    (2429, 1942, "t", SERIF, 34, "italic", "left"),
    (2514, 1884, "=", SERIF, 50, "normal", "center"),
    (2553, 1884, "kC", SERIF, 50, "italic", "left"),
    (2624, 1854, "n", SERIF, 34, "italic", "left"),
    (2624, 1900, "A", SERIF, 34, "italic", "left"),
    # where block
    (1645, 1992, "where:", LATO, 48.5, "normal", "left"),
    (1643, 2056, "r", SERIF, 44, "italic", "left"),
    (1662, 2066, "A", SERIF, 30, "italic", "left"),
    (1693, 2056, "=reaction rate of", LATO, 48.5, "normal", "left"),
    (2056, 2056, "A", SERIF, 44, "italic", "left"),
    (2102, 2056, "reactant;", LATO, 48.5, "normal", "left"),
    (1642, 2120, "C", SERIF, 44, "italic", "left"),
    (1670, 2130, "A", SERIF, 30, "italic", "left"),
    (1693, 2120, "=concentration or equivalent measure of", LATO, 48.5, "normal", "left"),
    (2572, 2120, "A", SERIF, 44, "italic", "left"),
    (2610, 2120, ";", LATO, 48.5, "normal", "left"),
    (1642, 2185, "C", SERIF, 44, "italic", "left"),
    (1670, 2195, "Ao", SERIF, 30, "italic", "left"),
    (1716, 2185, "=initial concentration", LATO, 48.5, "normal", "left"),
    (1642, 2249, "t", SERIF, 44, "italic", "left"),
    (1660, 2249, "=time;", LATO, 48.5, "normal", "left"),
    (1642, 2313, "k", SERIF, 44, "italic", "left"),
    (1670, 2313, "=reaction constant;", LATO, 48.5, "normal", "left"),
    (1642, 2378, "n", SERIF, 44, "italic", "left"),
    (1670, 2378, "=reaction order.", LATO, 48.5, "normal", "left"),
    # half time
    (2521, 2249, "Half time:", LATO, 50, "bold", "left"),
    (2386, 2376, "t", SERIF, 46, "italic", "left"),
    (2411, 2374, "1", SERIF, 26, "normal", "left"),
    (2423, 2408, "/", SERIF, 36, "normal", "left"),
    (2435, 2410, "2", SERIF, 28, "normal", "left"),
    (2497, 2382, "=", SERIF, 46, "normal", "center"),
    (2533, 2340, "0.5", SERIF, 46, "normal", "left"),
    (2605, 2318, "1\u2212", SERIF, 30, "normal", "left"),
    (2648, 2318, "n", SERIF, 30, "italic", "left"),
    (2690, 2340, "\u2212 1", SERIF, 46, "normal", "left"),
    (2553, 2410, "k", SERIF, 46, "italic", "left"),
    (2581, 2410, "(", SERIF, 46, "normal", "left"),
    (2599, 2410, "n", SERIF, 46, "italic", "left"),
    (2643, 2410, "\u2212 1)", SERIF, 46, "normal", "left"),
    (2779, 2376, "C", SERIF, 46, "italic", "left"),
    (2807, 2390, "A", SERIF, 30, "italic", "left"),
    (2830, 2400, "0", SERIF, 20, "normal", "left"),
    (2858, 2356, "1\u2212", SERIF, 30, "normal", "left"),
    (2902, 2356, "n", SERIF, 30, "italic", "left"),
]
for (tx, ty, txt, font, size, style, align) in TEXTS:
    T.add_layout(Label(x=tx, y=ty - MID_SHIFT[font] * size, text=txt, text_font=font,
                       text_font_size=f"{size}px", text_font_style=style, text_align=align,
                       text_baseline="middle", text_color="black"))
# fraction bars
T.segment(x0=[2372, 2530], y0=[1869, 2364], x1=[2476, 2775], y1=[1869, 2364],
          line_color="black", line_width=2.5)

layout = row(edge, column(A.p, C.p, E.p), column(B.p, D.p, T))

with open("out.html", "w") as f:
    f.write(file_html(layout, INLINE, title="EPR decay"))
